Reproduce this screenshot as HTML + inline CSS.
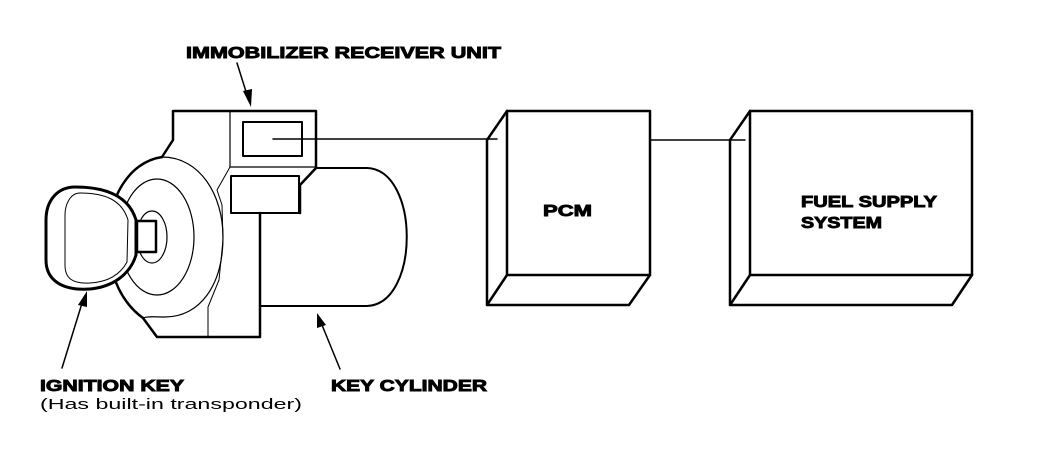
<!DOCTYPE html>
<html><head><style>
html,body{margin:0;padding:0;background:#fff;}
svg{display:block}
text{font-family:"Liberation Sans",Arial,sans-serif;font-weight:bold;fill:#000}
.b{stroke:#000;stroke-width:0.9}
</style></head><body>
<svg width="1056" height="454" viewBox="0 0 1056 454" xmlns="http://www.w3.org/2000/svg">
<g fill="none" stroke="#000" stroke-linejoin="round" stroke-linecap="round">
<!-- key cylinder -->
<path d="M316,168 L367,168 C420,170 420,304 367,306 L260,306" stroke-width="2"/>
<!-- housing -->
<path d="M162,157 L173,140 L173,111 L316,111 L316,168 L300,185 L300,213" stroke-width="2.5"/>
<path d="M260,213 L260,337 L157,337 L143,318" stroke-width="2.5"/>
<path d="M230,111 L230,167 L316,167" stroke-width="1.2"/>
<path d="M230,167 L217,190 L222,205 L223,240 L219,280 L208,307 L208,337" stroke-width="1"/>
<rect x="243" y="122" width="59" height="34" stroke-width="2"/>
<rect x="231" y="176" width="68" height="37" stroke-width="2"/>
<!-- rings -->
<path d="M162,157 C128,162 108,200 108,237 C108,280 125,305 143,318" stroke-width="2.5"/>
<path d="M162,157 C200,157 223,195 223,237 C223,285 200,317 165,317 C155,317 148,316 143,318" stroke-width="1.2"/>
<ellipse cx="157" cy="237" rx="37" ry="58" stroke-width="1.2"/>
<ellipse cx="152" cy="237" rx="15" ry="26" stroke-width="1.2"/>
<!-- key -->
<path d="M75,187 C58,187 46,200 46,220 L46,260 C46,280 62,291 90,289 C112,287 130,275 136,255 L136,220 C130,200 112,187 75,187 Z" fill="#fff" stroke-width="3"/>
<path d="M80,193 C70,193 65,205 65,215 L65,265 C65,278 72,284 90,283 C107,282 120,275 127,262 L128,220 C122,200 105,193 80,193 Z" stroke-width="1"/>
<rect x="137" y="221" width="19" height="31" fill="#fff" stroke-width="2.5"/>
<!-- connectors -->
<line x1="273" y1="139" x2="497" y2="139" stroke-width="1.5"/>
<line x1="650" y1="140" x2="745" y2="140" stroke-width="1.5"/>
<!-- PCM box -->
<rect x="507" y="111" width="143" height="164" stroke-width="2.5"/>
<path d="M507,111 L487,140 L487,305 L629,305 L650,275 M487,305 L507,275" stroke-width="2.5"/>
<!-- Fuel box -->
<rect x="750" y="111" width="222" height="164" stroke-width="2.5"/>
<path d="M750,111 L730,140 L730,305 L952,305 L972,275 M730,305 L750,275" stroke-width="2.5"/>
<!-- arrows -->
<line x1="237" y1="63" x2="248" y2="98" stroke-width="1.5"/>
<line x1="62" y1="368" x2="83" y2="300" stroke-width="1.5"/>
<line x1="340" y1="369" x2="322" y2="325" stroke-width="1.5"/>
</g>
<g fill="#000">
<polygon points="251,107 243,91 252,89"/>
<polygon points="87,291 78,305 87,307"/>
<polygon points="317,313 317,328 326,325"/>
</g>
<text class="b" x="186" y="58" font-size="16" textLength="315" lengthAdjust="spacingAndGlyphs">IMMOBILIZER RECEIVER UNIT</text>
<text class="b" x="40" y="391" font-size="16" textLength="144" lengthAdjust="spacingAndGlyphs">IGNITION KEY</text>
<text x="40" y="409" font-size="15" style="font-weight:normal" textLength="262" lengthAdjust="spacingAndGlyphs">(Has built-in transponder)</text>
<text class="b" x="331" y="391" font-size="16" textLength="156" lengthAdjust="spacingAndGlyphs">KEY CYLINDER</text>
<text class="b" x="543" y="216" font-size="16" textLength="49" lengthAdjust="spacingAndGlyphs">PCM</text>
<text class="b" x="801" y="207" font-size="16" textLength="136" lengthAdjust="spacingAndGlyphs">FUEL SUPPLY</text>
<text class="b" x="801" y="228" font-size="16" textLength="81" lengthAdjust="spacingAndGlyphs">SYSTEM</text>
</svg>
</body></html>
